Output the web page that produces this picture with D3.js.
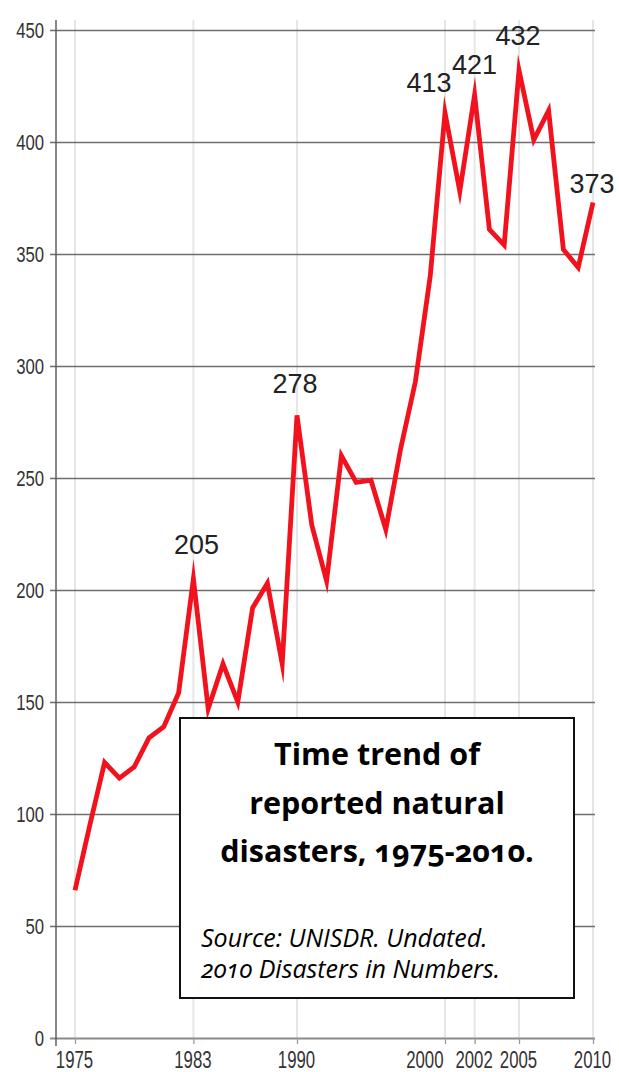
<!DOCTYPE html>
<html>
<head>
<meta charset="utf-8">
<script src="https://cdn.jsdelivr.net/npm/d3@7"></script>
<style>
  html, body { margin: 0; padding: 0; background: #fff; }
  svg { display: block; }
</style>
</head>
<body>
<svg id="chart" width="619" height="1072"></svg>
<script>
// ---- data ----
const years = [1975,1976,1977,1978,1979,1980,1981,1982,1983,1984,1985,1986,1987,1988,1989,1990,1991,1992,1993,1994,1995,1996,1997,1998,1999,2000,2001,2002,2003,2004,2005,2006,2007,2008,2009,2010];
const disasters = [66,95,123,116,121,134,139,154,205,147,167,150,192,203,167,278,229,204,260,248,249,227,263,293,340,413,378,421,361,354,432,401,414,352,344,373];
const yTicks = [0,50,100,150,200,250,300,350,400,450];
const xTicks = [1975,1983,1990,2000,2002,2005,2010];
const labelledYears = [1983,1990,2000,2002,2005,2010];
const titleLines = ["Time trend of","reported natural","disasters, 1975-2010."];
const sourceLines = ["Source: UNISDR. Undated.","2010 Disasters in Numbers."];

// ---- layout ----
const svg = d3.select("#chart");
const x = d3.scaleLinear().domain([1975, 2010]).range([75, 593]);
const y = d3.scaleLinear().domain([0, 450]).range([1038, 30]);
const axisX = 56;
const tickFont = "'Liberation Sans',Arial,sans-serif";
const sxY = 0.76, sxX = 0.70; // horizontal condensing of tick labels

svg.append("rect").attr("width", 619).attr("height", 1072).attr("fill", "#fff");

// vertical faint gridlines
svg.append("g").selectAll("line").data(xTicks).join("line")
  .attr("x1", d => x(d)).attr("x2", d => x(d))
  .attr("y1", y(0)).attr("y2", 20)
  .attr("stroke", "#e6e6e6").attr("stroke-width", 2);

// horizontal gridlines via axis
const yAxis = d3.axisLeft(y).tickValues(yTicks).tickSize(-(595 - axisX)).tickPadding(12);
const gy = svg.append("g").attr("transform", `translate(${axisX},0)`).call(yAxis);
gy.select(".domain").remove();
gy.selectAll(".tick line")
  .attr("x1", -6)
  .attr("stroke", (d) => d === 0 ? "#8a8a8a" : "#6e6e6e")
  .attr("stroke-width", (d) => d === 0 ? 1.8 : 1.3);
gy.selectAll(".tick text")
  .attr("font-family", tickFont).attr("font-size", 22).attr("fill", "#333")
  .attr("x", -12 / sxY)
  .attr("transform", `scale(${sxY},1)`);

// y axis line
svg.append("line").attr("x1", axisX).attr("x2", axisX).attr("y1", 20).attr("y2", 1046)
  .attr("stroke", "#555").attr("stroke-width", 1.4);

// x axis labels
const xAxis = d3.axisBottom(x).tickValues(xTicks).tickFormat(d3.format("d")).tickSize(6).tickPadding(6);
const gx = svg.append("g").attr("transform", `translate(0,${y(0)})`).call(xAxis);
gx.select(".domain").remove();
gx.selectAll(".tick line").attr("stroke", "#999").attr("stroke-width", 1.3);
gx.selectAll(".tick text")
  .attr("font-family", tickFont).attr("font-size", 24).attr("fill", "#333")
  .attr("dy", 0).attr("y", 30)
  .attr("text-anchor", d => d === 2000 ? "end" : "middle")
  .attr("x", d => (d === 2000 ? -2 : -1) / sxX)
  .attr("transform", `scale(${sxX},1)`);

// data line
const line = d3.line().x((d, i) => x(years[i])).y(d => y(d));
svg.append("path").datum(disasters)
  .attr("d", line)
  .attr("fill", "none")
  .attr("stroke", "#f2121e")
  .attr("stroke-width", 4.8)
  .attr("stroke-linejoin", "miter")
  .attr("stroke-miterlimit", 10);

// value labels
const labelShift = {1983: [3, -25], 1990: [-2, -22], 2000: [-16, -21], 2002: [0, -21], 2005: [-1, -25], 2010: [-1, -9]};
svg.append("g").selectAll("text").data(labelledYears).join("text")
  .attr("x", d => x(d) + labelShift[d][0])
  .attr("y", d => y(disasters[years.indexOf(d)]) + labelShift[d][1])
  .attr("text-anchor", "middle")
  .attr("font-family", "'Liberation Sans',Arial,sans-serif")
  .attr("font-size", 28)
  .attr("fill", "#222")
  .attr("textLength", 45)
  .attr("lengthAdjust", "spacingAndGlyphs")
  .text(d => disasters[years.indexOf(d)]);

// annotation box
const box = svg.append("g");
box.append("rect").attr("x", 180).attr("y", 718).attr("width", 394).attr("height", 280)
  .attr("fill", "#fff").attr("stroke", "#111").attr("stroke-width", 2);
box.selectAll("text.title").data(titleLines).join("text")
  .attr("class", "title")
  .attr("x", 377).attr("y", (d, i) => 765 + i * 48.5)
  .attr("text-anchor", "middle")
  .attr("font-family", "'Open Sans',Lato,sans-serif")
  .attr("font-weight", "bold").attr("font-size", 30.5)
  .style("font-variant-numeric", "oldstyle-nums")
  .attr("fill", "#000")
  .text(d => d);
box.selectAll("text.src").data(sourceLines).join("text")
  .attr("class", "src")
  .attr("x", 201).attr("y", (d, i) => 947 + i * 31)
  .attr("font-family", "'Open Sans',Lato,sans-serif")
  .attr("font-style", "italic").attr("font-size", 25)
  .style("font-variant-numeric", "oldstyle-nums")
  .attr("fill", "#000")
  .text(d => d);
</script>
</body>
</html>
